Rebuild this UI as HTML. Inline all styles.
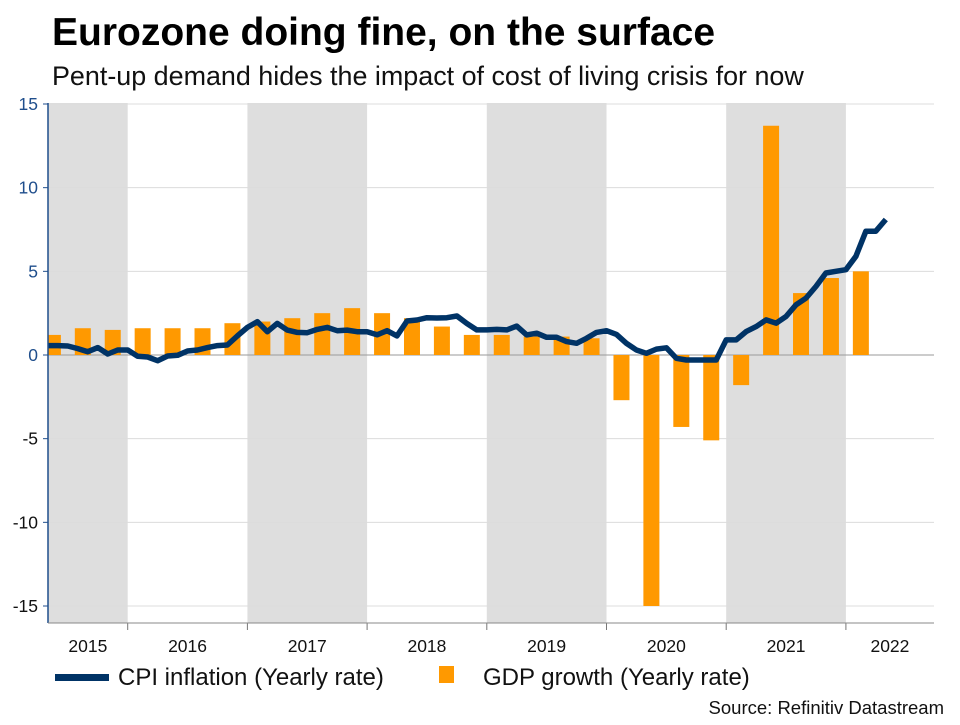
<!DOCTYPE html>
<html><head><meta charset="utf-8"><style>
body{margin:0;background:#fff;}
svg text{font-family:"Liberation Sans",Arial,sans-serif;}
</style></head><body>
<svg id="chart" width="960" height="720" viewBox="0 0 960 720" xmlns="http://www.w3.org/2000/svg">
<text x="52" y="45" font-size="39" font-weight="bold" fill="#000">Eurozone doing fine, on the surface</text>
<text x="52" y="85" font-size="26.9" fill="#111">Pent-up demand hides the impact of cost of living crisis for now</text>
<g id="plot"></g>
<g>
<rect x="55" y="674" width="54" height="7" fill="#003366"/>
<text x="118" y="685" font-size="24" fill="#111">CPI inflation (Yearly rate)</text>
<rect x="439" y="666" width="15" height="17" fill="#ff9900"/>
<text x="483" y="685" font-size="24" fill="#111">GDP growth (Yearly rate)</text>
</g>
<text x="944" y="714" font-size="18.5" text-anchor="end" fill="#111">Source: Refinitiv Datastream</text>
</svg>
<script>
const years = [2015,2016,2017,2018,2019,2020,2021,2022];
const yTicks = [15,10,5,0,-5,-10,-15];
// GDP quarterly, Q2 2015 .. Q1 2022
const gdpQuarters = ["2015Q2","2015Q3","2015Q4","2016Q1","2016Q2","2016Q3","2016Q4","2017Q1","2017Q2","2017Q3","2017Q4","2018Q1","2018Q2","2018Q3","2018Q4","2019Q1","2019Q2","2019Q3","2019Q4","2020Q1","2020Q2","2020Q3","2020Q4","2021Q1","2021Q2","2021Q3","2021Q4","2022Q1"];
const gdpValues = [1.2,1.6,1.5,1.6,1.6,1.6,1.9,2.0,2.2,2.5,2.8,2.5,2.2,1.7,1.2,1.2,1.1,1.1,1.0,-2.7,-15.0,-4.3,-5.1,-1.8,13.7,3.7,4.6,5.0];
// CPI monthly, May 2015 .. May 2022
const cpiStartMonth = 4;
const cpiValues = [0.56,0.56,0.54,0.38,0.2,0.44,0.06,0.3,0.3,-0.08,-0.12,-0.34,-0.06,-0.02,0.24,0.3,0.44,0.56,0.6,1.14,1.65,1.99,1.39,1.89,1.49,1.35,1.33,1.53,1.65,1.45,1.49,1.39,1.39,1.21,1.45,1.14,2.03,2.09,2.23,2.21,2.23,2.33,1.89,1.5,1.5,1.53,1.5,1.73,1.2,1.3,1.06,1.06,0.8,0.7,1.0,1.35,1.45,1.23,0.7,0.3,0.1,0.35,0.43,-0.2,-0.3,-0.3,-0.3,-0.3,0.9,0.9,1.4,1.7,2.1,1.9,2.3,3.0,3.4,4.1,4.9,5.0,5.1,5.9,7.4,7.4,8.1];

const NS="http://www.w3.org/2000/svg";
const L=48,R=934,T=103,B=623;
const monthX = m => 8 + (119.7/12)*m;
const yScale = v => 355 - v*(251/15);
const g=document.getElementById('plot');
function mk(tag,attrs){const e=document.createElementNS(NS,tag);for(const k in attrs)e.setAttribute(k,attrs[k]);g.appendChild(e);return e;}
const clip=document.createElementNS(NS,'clipPath');clip.setAttribute('id','pc');
const cr=document.createElementNS(NS,'rect');cr.setAttribute('x',L);cr.setAttribute('y',T);cr.setAttribute('width',R-L);cr.setAttribute('height',B-T);clip.appendChild(cr);g.appendChild(clip);
years.forEach((yr,i)=>{
  const x0=Math.max(L,monthX((yr-2015)*12)), x1=Math.min(R,monthX((yr-2014)*12));
  if(i%2===0){const r=mk('rect',{x:x0,y:T,width:x1-x0,height:B-T,fill:'#dedede'});
  
  }
  const t=mk('text',{x:(x0+x1)/2,y:652,'font-size':17.5,'text-anchor':'middle',fill:'#111'});t.textContent=yr;
  
  
  if(i>0){const tk=mk('line',{x1:x0,x2:x0,y1:B,y2:B+7,stroke:'#777'});
  
  }
});
yTicks.forEach(v=>{
  const y=yScale(v);
  const gl=mk('line',{x1:L,x2:R,y1:y,y2:y,stroke:v===0?'#999':'#dcdcdc','stroke-width':1});
  
  
  const tk=mk('line',{x1:L-5,x2:L,y1:y,y2:y,stroke:'#1f4e8c'});
  
  
  const t=mk('text',{x:38,y:y+6,'font-size':17.5,'text-anchor':'end',fill:v>=0?'#1f4e8c':'#111'});t.textContent=v;
  
  
});
gdpValues.forEach((v,i)=>{
  const q=gdpQuarters[i];const m=(+q.slice(0,4)-2015)*12+(+q.slice(5)-1)*3+1.5;
  const xc=monthX(m), y0=yScale(0), y1=yScale(v);
  const r=mk('rect',{x:xc-8,y:Math.min(y0,y1),width:16,height:Math.abs(y1-y0),fill:'#ff9900','clip-path':'url(#pc)'});
  
  
});
const pts=cpiValues.map((v,i)=>monthX(cpiStartMonth+i).toFixed(1)+','+yScale(v).toFixed(1)).join(' ');
const pl=mk('polyline',{points:pts,fill:'none',stroke:'#003366','stroke-width':5.5,'stroke-linejoin':'round','clip-path':'url(#pc)'});


const ya=mk('line',{x1:L,x2:L,y1:T,y2:B,stroke:'#1f4e8c','stroke-width':1.5});


const xa=mk('line',{x1:L,x2:R,y1:B,y2:B,stroke:'#888'});


</script>
</body></html>
